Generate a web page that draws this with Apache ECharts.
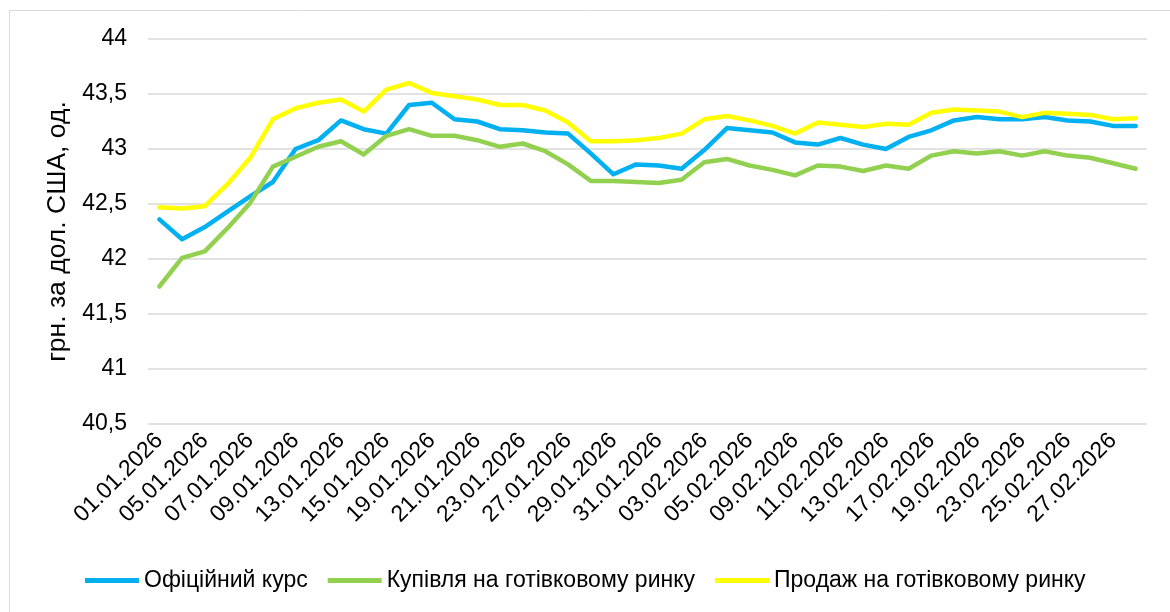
<!DOCTYPE html>
<html>
<head>
<meta charset="utf-8">
<script src="https://cdn.jsdelivr.net/npm/echarts@6/dist/echarts.min.js"></script>
<style>
    html, body {margin: 0; padding: 0; background: #fff;}
    #chart {width: 1170px; height: 612px;}
</style>
</head>
<body>
<div id="chart"></div>
<script>
    // дати (категорії осі X)
    const dates = [
        '01.01.2026', '02.01.2026', '05.01.2026', '06.01.2026', '07.01.2026', '08.01.2026',
        '09.01.2026', '12.01.2026', '13.01.2026', '14.01.2026', '15.01.2026', '16.01.2026',
        '19.01.2026', '20.01.2026', '21.01.2026', '22.01.2026', '23.01.2026', '26.01.2026',
        '27.01.2026', '28.01.2026', '29.01.2026', '30.01.2026', '31.01.2026', '02.02.2026',
        '03.02.2026', '04.02.2026', '05.02.2026', '06.02.2026', '09.02.2026', '10.02.2026',
        '11.02.2026', '12.02.2026', '13.02.2026', '16.02.2026', '17.02.2026', '18.02.2026',
        '19.02.2026', '20.02.2026', '23.02.2026', '24.02.2026', '25.02.2026', '26.02.2026',
        '27.02.2026', '28.02.2026'
    ]

    // офіційний курс
    const official = [
        42.36, 42.18, 42.29, 42.43, 42.57, 42.70, 43.00, 43.08, 43.26, 43.18, 43.14, 43.40,
        43.42, 43.27, 43.25, 43.18, 43.17, 43.15, 43.14, 42.96, 42.77, 42.86, 42.85, 42.82,
        42.99, 43.19, 43.17, 43.15, 43.06, 43.04, 43.10, 43.04, 43.00, 43.11, 43.17, 43.26,
        43.29, 43.27, 43.27, 43.29, 43.26, 43.25, 43.21, 43.21
    ]

    // купівля на готівковому ринку
    const buy = [
        41.75, 42.01, 42.07, 42.28, 42.51, 42.84, 42.93, 43.02, 43.07, 42.95, 43.12, 43.18,
        43.12, 43.12, 43.08, 43.02, 43.05, 42.98, 42.86, 42.71, 42.71, 42.70, 42.69, 42.72,
        42.88, 42.91, 42.85, 42.81, 42.76, 42.85, 42.84, 42.80, 42.85, 42.82, 42.94, 42.98,
        42.96, 42.98, 42.94, 42.98, 42.94, 42.92, 42.87, 42.82
    ]

    // продаж на готівковому ринку
    const sell = [
        42.47, 42.46, 42.48, 42.68, 42.92, 43.27, 43.37, 43.42, 43.45, 43.34, 43.54, 43.60,
        43.51, 43.48, 43.45, 43.40, 43.40, 43.35, 43.24, 43.07, 43.07, 43.08, 43.10, 43.14,
        43.27, 43.30, 43.26, 43.21, 43.14, 43.24, 43.22, 43.20, 43.23, 43.22, 43.33, 43.36,
        43.35, 43.34, 43.29, 43.33, 43.32, 43.31, 43.27, 43.28
    ]

    const seriesNames = ['Офіційний курс', 'Купівля на готівковому ринку', 'Продаж на готівковому ринку']
    const colors = ['#00b0f0', '#92d050', '#ffff00']

    const font = 'Liberation Sans, Arial, sans-serif'

    let chart = echarts.init(document.getElementById('chart'))

    const line = (name, data, color) => ({
        name: name,
        type: 'line',
        data: data,
        symbol: 'none',
        color: color,
        lineStyle: {width: 4.5, color: color, cap: 'round', join: 'round'}
    })

    chart.setOption({
        animation: false,
        textStyle: {fontFamily: font},
        graphic: [{
            type: 'rect',
            shape: {x: 9.5, y: 10.5, width: 1200, height: 700},
            style: {fill: 'none', stroke: '#d9d9d9', lineWidth: 1},
            silent: true
        }],
        grid: {left: 148, right: 23, top: 39, bottom: 188},
        legend: {
            bottom: 15,
            left: 80,
            icon: 'rect',
            itemWidth: 54,
            itemHeight: 5,
            itemGap: 20,
            textStyle: {fontSize: 23, color: '#000', fontFamily: font},
            data: seriesNames
        },
        xAxis: {
            type: 'category',
            data: dates,
            boundaryGap: true,
            axisLine: {show: false},
            axisTick: {show: false},
            axisLabel: {
                interval: 1,
                rotate: 45,
                margin: 13,
                fontSize: 23,
                color: '#000',
                fontFamily: font
            }
        },
        yAxis: {
            type: 'value',
            min: 40.5,
            max: 44,
            interval: 0.5,
            name: 'грн. за дол. США, од.',
            nameLocation: 'middle',
            nameGap: 74,
            nameTextStyle: {fontSize: 26.5, color: '#000', fontFamily: font},
            axisLine: {show: false},
            axisTick: {show: false},
            splitLine: {lineStyle: {color: '#d9d9d9', width: 1.5}},
            axisLabel: {
                margin: 21,
                fontSize: 23,
                color: '#000',
                fontFamily: font,
                formatter: v => String(v).replace('.', ',')
            }
        },
        series: [
            line(seriesNames[0], official, colors[0]),
            line(seriesNames[1], buy, colors[1]),
            line(seriesNames[2], sell, colors[2])
        ]
    })
</script>
</body>
</html>
